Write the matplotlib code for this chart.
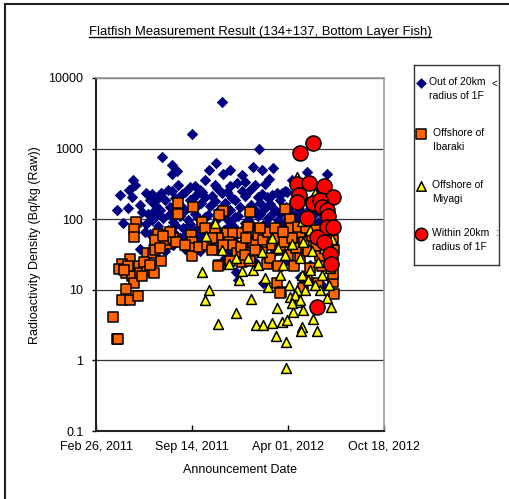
import matplotlib
matplotlib.use("Agg")
import matplotlib.pyplot as plt
import matplotlib.dates as mdates
import pandas as pd
from matplotlib.lines import Line2D
from matplotlib.patches import Rectangle
from matplotlib.ticker import NullLocator

plt.rcParams['font.family'] = ['Liberation Sans', 'DejaVu Sans']

# =====================================
# Data (announcement date, Bq/kg raw)
# =====================================
# Out of 20km radius of 1F
blue = [
    ("2011-11-15", 4500), ("2011-09-14", 1600), ("2012-02-01", 1000), ("2011-07-13", 760),
    ("2011-08-03", 590), ("2011-08-14", 480), ("2011-08-04", 440), ("2011-05-14", 360),
    ("2011-05-18", 305), ("2011-06-10", 235), ("2011-05-12", 206), ("2011-07-11", 235),
    ("2011-07-05", 200), ("2011-05-04", 144), ("2011-06-02", 126), ("2011-06-23", 122),
    ("2011-04-23", 88), ("2011-10-19", 500), ("2011-11-03", 625), ("2011-12-02", 500),
    ("2011-11-18", 437), ("2011-12-27", 423), ("2012-01-19", 549), ("2012-02-07", 498),
    ("2012-03-01", 531), ("2012-02-21", 371), ("2012-05-11", 466), ("2012-06-21", 437),
    ("2012-03-30", 243), ("2012-03-09", 235), ("2012-02-17", 206), ("2012-01-29", 206),
    ("2011-09-10", 286), ("2011-10-01", 259), ("2011-11-05", 277), ("2011-11-26", 243),
    ("2011-12-17", 326), ("2012-03-26", 251), ("2012-02-28", 220), ("2012-01-02", 336),
    ("2012-01-13", 259), ("2011-10-11", 359), ("2011-08-30", 243), ("2011-08-16", 305),
    ("2011-07-26", 259), ("2011-09-20", 213), ("2011-10-26", 213), ("2011-12-06", 200),
    ("2011-06-18", 187), ("2011-06-29", 159), ("2011-07-09", 135), ("2011-07-20", 187),
    ("2011-07-30", 149), ("2011-08-10", 200), ("2011-08-20", 159), ("2011-08-31", 135),
    ("2011-09-09", 187), ("2011-09-21", 144), ("2011-10-02", 170), ("2011-10-12", 206),
    ("2011-10-21", 154), ("2011-11-01", 181), ("2011-11-11", 139), ("2011-11-22", 170),
    ("2011-12-03", 135), ("2011-12-13", 187), ("2011-12-23", 149), ("2012-01-03", 213),
    ("2012-01-14", 159), ("2012-01-23", 135), ("2012-02-03", 170), ("2012-02-13", 144),
    ("2012-02-23", 164), ("2012-03-05", 135), ("2012-03-15", 187), ("2012-03-27", 149),
    ("2012-04-05", 126), ("2012-04-16", 159), ("2012-04-26", 135), ("2012-05-06", 187),
    ("2012-05-17", 144), ("2012-05-27", 175), ("2012-06-07", 126), ("2012-06-17", 154),
    ("2012-06-27", 115), ("2011-06-22", 97), ("2011-07-06", 80), ("2011-07-16", 104),
    ("2011-07-27", 70), ("2011-08-05", 91), ("2011-08-17", 115), ("2011-08-26", 75),
    ("2011-09-06", 97), ("2011-09-16", 70), ("2011-09-26", 104), ("2011-10-07", 80),
    ("2011-10-17", 115), ("2011-10-28", 83), ("2011-11-07", 104), ("2011-11-19", 70),
    ("2011-11-28", 97), ("2011-12-08", 80), ("2011-12-19", 111), ("2011-12-29", 73),
    ("2012-01-09", 97), ("2012-01-20", 75), ("2012-01-30", 111), ("2012-02-09", 83),
    ("2012-02-19", 104), ("2012-03-02", 70), ("2012-03-11", 97), ("2012-03-22", 80),
    ("2012-04-01", 104), ("2012-04-11", 75), ("2012-04-22", 97), ("2012-05-02", 80),
    ("2012-05-13", 104), ("2012-05-23", 70), ("2012-06-02", 91), ("2012-06-13", 75),
    ("2012-06-23", 83), ("2012-07-04", 66), ("2011-06-08", 66), ("2011-07-24", 64),
    ("2011-06-25", 43), ("2011-08-06", 43), ("2011-07-10", 51), ("2011-08-21", 54),
    ("2011-09-11", 48), ("2011-10-01", 54), ("2011-10-22", 45), ("2011-11-12", 51),
    ("2011-12-01", 58), ("2011-12-24", 43), ("2012-01-12", 51), ("2012-02-04", 58),
    ("2012-02-24", 46), ("2012-03-16", 54), ("2012-04-06", 45), ("2012-04-27", 51),
    ("2012-05-18", 58), ("2012-06-08", 43), ("2012-06-28", 51), ("2011-12-18", 13.8),
    ("2011-12-14", 17.9), ("2012-02-08", 12.5), ("2012-01-07", 31), ("2012-02-13", 12.5),
    ("2012-06-11", 11.7), ("2012-04-25", 15.2), ("2012-03-25", 25), ("2012-05-16", 22.4),
    ("2012-01-24", 25), ("2011-11-21", 28), ("2011-05-29", 159), ("2011-05-22", 91),
    ("2011-05-05", 259), ("2011-04-17", 220), ("2011-04-11", 135), ("2012-04-24", 259),
    ("2012-06-05", 259), ("2012-05-21", 336), ("2012-04-09", 359),
    ("2011-06-23", 228), ("2011-08-03", 248), ("2011-08-24", 225), ("2011-10-05", 240),
    ("2011-11-15", 232), ("2011-12-27", 250), ("2012-02-07", 226), ("2012-03-19", 238),
    ("2012-04-20", 244), ("2012-05-31", 229), ("2011-06-14", 118), ("2011-06-29", 110),
    ("2011-07-30", 120), ("2011-08-20", 112), ("2011-09-20", 118), ("2011-10-11", 108),
    ("2011-11-22", 117), ("2011-12-13", 109), ("2012-01-13", 114), ("2012-02-03", 120),
    ("2012-02-23", 112), ("2012-03-15", 118), ("2012-04-16", 110), ("2012-05-06", 116),
    ("2012-05-27", 121), ("2012-06-17", 108), ("2011-06-18", 61), ("2011-07-05", 57),
    ("2011-08-10", 62), ("2011-08-30", 59), ("2011-09-20", 63), ("2011-10-11", 60),
    ("2011-11-01", 57), ("2011-11-22", 62), ("2011-12-13", 60), ("2012-01-02", 63),
    ("2012-01-23", 58), ("2012-02-13", 62), ("2012-03-05", 59), ("2012-03-26", 61),
    ("2012-04-16", 57), ("2012-05-06", 63), ("2012-05-27", 60), ("2012-06-17", 58),
    ("2011-05-29", 38), ("2011-07-20", 36), ("2011-08-30", 38), ("2011-10-01", 35),
    ("2011-11-01", 37), ("2011-12-02", 36), ("2012-02-03", 38), ("2012-03-05", 35),
    ("2012-04-05", 37), ("2012-05-06", 36), ("2012-06-07", 38), ("2011-09-20", 300),
    ("2011-11-01", 310), ("2011-12-02", 295), ("2012-01-23", 305), ("2012-02-13", 315),
    ("2012-04-16", 300), ("2011-06-10", 85), ("2011-08-10", 82), ("2011-09-10", 86),
    ("2011-10-01", 81), ("2011-12-02", 84), ("2012-01-02", 87), ("2012-02-13", 82),
    ("2012-03-26", 85), ("2012-05-06", 83), ("2012-06-17", 86),
]

# Offshore of Ibaraki
orange = [
    ("2011-08-16", 170), ("2011-08-16", 118), ("2011-09-16", 149), ("2011-05-20", 91),
    ("2011-11-18", 130), ("2011-11-09", 115), ("2012-01-13", 126), ("2011-10-05", 91),
    ("2011-05-16", 73), ("2011-05-17", 56), ("2011-07-05", 62), ("2011-06-29", 50),
    ("2011-07-26", 45), ("2011-06-12", 33), ("2011-06-25", 33), ("2011-06-28", 37),
    ("2011-07-11", 26), ("2011-05-08", 27), ("2011-04-21", 23.5), ("2011-04-15", 20),
    ("2011-04-29", 17.5), ("2011-05-12", 15.7), ("2011-05-27", 21.5), ("2011-05-28", 17.5),
    ("2011-06-13", 18.5), ("2011-06-27", 17.5), ("2011-05-16", 12.5), ("2011-04-30", 10.4),
    ("2011-04-21", 7.2), ("2011-05-08", 7.2), ("2011-05-25", 8.2), ("2011-04-03", 4.1),
    ("2011-04-11", 2.0), ("2011-04-13", 2.0), ("2011-09-12", 60), ("2011-09-14", 48),
    ("2011-09-15", 39), ("2011-09-13", 30), ("2011-09-29", 40), ("2011-10-15", 43),
    ("2011-10-26", 37), ("2011-11-09", 22.4), ("2011-10-11", 75), ("2011-11-01", 66),
    ("2011-11-26", 64), ("2011-12-08", 64), ("2011-12-27", 64), ("2012-01-11", 77),
    ("2011-11-30", 48), ("2011-12-08", 43), ("2011-12-27", 41), ("2011-12-17", 33),
    ("2011-12-27", 25), ("2012-01-13", 26), ("2011-12-02", 26), ("2012-01-19", 46),
    ("2011-11-07", 21.5), ("2011-12-25", 41), ("2012-02-17", 23.5), ("2012-03-09", 12.5),
    ("2012-03-18", 9.3), ("2012-07-04", 12.8), ("2012-07-05", 8.7), ("2012-07-03", 17),
    ("2012-07-04", 25), ("2012-07-05", 37), ("2012-07-03", 51), ("2012-04-05", 78),
    ("2012-04-26", 64), ("2012-03-15", 9.0), ("2012-05-02", 10.6), ("2012-06-02", 12.5),
    ("2012-05-11", 15.2), ("2012-03-26", 139), ("2012-04-05", 100), ("2012-04-07", 75),
    ("2012-01-09", 77), ("2012-04-22", 77), ("2012-01-29", 60), ("2012-02-09", 51),
    ("2012-02-19", 66), ("2012-02-28", 43), ("2012-03-07", 54), ("2012-03-15", 37),
    ("2012-03-24", 48), ("2012-04-01", 31), ("2012-04-09", 54), ("2012-04-18", 39),
    ("2012-04-26", 28), ("2012-05-04", 48), ("2012-05-13", 35), ("2012-05-21", 58),
    ("2012-05-29", 42), ("2012-06-07", 30), ("2012-06-15", 51), ("2012-06-23", 37),
    ("2012-02-07", 34), ("2012-02-23", 28), ("2012-03-11", 21.5), ("2012-04-13", 21.5),
    ("2012-05-17", 20.4), ("2012-06-11", 21.5), ("2012-06-19", 70), ("2012-05-29", 70),
    ("2012-05-09", 75), ("2012-01-23", 37), ("2012-01-05", 54), ("2012-02-03", 75),
    ("2012-03-05", 75), ("2012-03-22", 66), ("2012-01-02", 31), ("2011-07-20", 51),
    ("2011-07-09", 39), ("2011-08-05", 54), ("2011-08-12", 48), ("2011-07-30", 66),
    ("2011-07-16", 58), ("2011-08-30", 43), ("2011-11-07", 54), ("2011-11-18", 43),
    ("2011-10-26", 54), ("2011-05-04", 21.5), ("2011-04-25", 19), ("2011-06-06", 25),
    ("2011-06-18", 22.4), ("2011-06-02", 15.7),
]

# Offshore of Miyagi
yellow = [
    ("2011-11-01", 88), ("2011-10-13", 58), ("2011-10-05", 17.9), ("2011-10-19", 10),
    ("2011-10-12", 7.2), ("2011-12-15", 4.7), ("2011-11-07", 3.3), ("2012-01-15", 7.4),
    ("2012-01-25", 3.2), ("2011-12-21", 13.8), ("2011-12-27", 18.5), ("2012-01-19", 19),
    ("2011-11-30", 23.5), ("2011-11-15", 37), ("2012-02-09", 3.2), ("2012-02-28", 3.4),
    ("2012-03-09", 5.5), ("2012-03-07", 2.2), ("2012-03-28", 1.8), ("2012-03-27", 0.78),
    ("2012-03-20", 3.5), ("2012-03-29", 3.7), ("2012-04-11", 4.9), ("2012-05-02", 5.2),
    ("2012-04-30", 3.0), ("2012-04-28", 2.6), ("2012-05-23", 3.8), ("2012-06-01", 2.6),
    ("2012-06-29", 5.7), ("2012-02-19", 11), ("2012-04-05", 8.0), ("2012-04-20", 6.8),
    ("2012-05-06", 10), ("2012-04-19", 10), ("2012-06-07", 10), ("2012-06-21", 7.6),
    ("2012-05-31", 6.1), ("2012-02-07", 34), ("2012-03-22", 22.4), ("2012-04-04", 11.7),
    ("2012-04-30", 16.2), ("2012-05-13", 13.8), ("2012-04-16", 8.4), ("2012-04-10", 6.5),
    ("2012-04-20", 400), ("2012-05-27", 235), ("2012-05-17", 70), ("2012-05-02", 48),
    ("2012-02-28", 54), ("2012-03-11", 39), ("2012-03-26", 31), ("2012-04-09", 45),
    ("2012-04-26", 28), ("2012-05-21", 35), ("2012-06-02", 25), ("2012-06-15", 39),
    ("2012-06-27", 20.4), ("2012-06-11", 16.2), ("2012-05-17", 19), ("2012-03-15", 16.2),
    ("2012-02-13", 14.7), ("2012-01-29", 22.4), ("2012-01-09", 28), ("2011-12-15", 28),
    ("2012-06-25", 11.7), ("2012-05-27", 11.7), ("2012-04-26", 7.2),
    ("2012-04-30", 95), ("2012-07-02", 52),
]

# Within 20km radius of 1F
red = [
    ("2012-04-26", 870), ("2012-05-23", 1200), ("2012-04-19", 315), ("2012-05-15", 326),
    ("2012-06-15", 300), ("2012-04-24", 220), ("2012-07-04", 206), ("2012-04-19", 175),
    ("2012-05-23", 170), ("2012-06-07", 187), ("2012-06-11", 149), ("2012-06-21", 135),
    ("2012-06-23", 111), ("2012-05-11", 104), ("2012-06-21", 77), ("2012-07-04", 77),
    ("2012-06-01", 56), ("2012-06-15", 48), ("2012-06-27", 32), ("2012-06-29", 23.5),
    ("2012-06-01", 5.7),
]

labels = ["Out of 20km\nradius of 1F", "Offshore of\nIbaraki",
          "Offshore of\nMiyagi", "Within 20km\nradius of 1F"]
x_ticks = ["2011-02-26", "2011-09-14", "2012-04-01", "2012-10-18"]
y_ticks = [0.1, 1, 10, 100, 1000, 10000]


def split(pts):
    return pd.to_datetime([p[0] for p in pts]), [p[1] for p in pts]


# series styles: marker, size, face, edge, edge width
styles = [
    ('D', 34, '#000080', '#000080', 0.0),
    ('s', 52, '#FF6600', 'black', 1.1),
    ('^', 50, '#FFFF00', 'black', 1.1),
    ('o', 118, '#FF0000', 'black', 1.1),
]

fig = plt.figure(figsize=(5.09, 4.99), dpi=100)
ax = fig.add_axes([96/509, 68/499, 288/509, 353/499])

for pts, (mk, s, fc, ec, lw), z in zip([blue, orange, yellow, red], styles, [2, 3, 4, 5]):
    d, v = split(pts)
    ax.scatter(d, v, marker=mk, s=s, facecolor=fc, edgecolor=ec, linewidths=lw, zorder=z)

ax.set_yscale('log')
ax.set_ylim(0.1, 10000)
ax.set_yticks(y_ticks)
ax.set_yticklabels(['0.1', '1', '10', '100', '1000', '10000'])
ax.yaxis.set_minor_locator(NullLocator())
ax.set_xlim(pd.Timestamp(x_ticks[0]), pd.Timestamp(x_ticks[-1]))
ax.set_xticks(pd.to_datetime(x_ticks))
ax.xaxis.set_major_formatter(mdates.DateFormatter('%b %d, %Y'))
ax.xaxis.set_minor_locator(NullLocator())

ax.set_axisbelow(True)
ax.grid(axis='y', color='#333333', lw=0.9)
ax.tick_params(axis='y', direction='out', length=3, width=1, pad=6, labelsize=9)
ax.tick_params(axis='x', direction='in', length=4, width=1, pad=7, labelsize=9)
for side in ['left', 'bottom']:
    ax.spines[side].set_color('#222222')
    ax.spines[side].set_linewidth(1.5)
for side in ['top', 'right']:
    ax.spines[side].set_color('#999999')
    ax.spines[side].set_linewidth(1.2)

fig.text(35/509, 1 - 245/499, 'Radioactivity Density (Bq/kg (Raw))', rotation=90,
         ha='center', va='center', fontsize=9)
fig.text(240/509, 1 - 470/499, 'Announcement Date', ha='center', va='center', fontsize=9)
title = fig.text(260/509, 1 - 32/499, 'Flatfish Measurement Result (134+137, Bottom Layer Fish)',
                 ha='center', va='center', fontsize=9.4)

# underline the title
fig.canvas.draw()
bb = title.get_window_extent().transformed(fig.transFigure.inverted())
fig.add_artist(Line2D([bb.x0, bb.x1], [bb.y0 + 0.002, bb.y0 + 0.002], color='black', lw=1))

# legend box
lax = fig.add_axes([414/509, 1 - 265/499, 85/509, 200/499])
lax.set_xlim(414, 499)
lax.set_ylim(265, 65)
lax.set_xticks([])
lax.set_yticks([])
for sp in lax.spines.values():
    sp.set_color('#333333')
    sp.set_linewidth(1)
leg_sizes = [30, 48, 46, 80]
for (mk, s, fc, ec, lw), ls, lab, yy, tx in zip(styles, leg_sizes, labels, [83, 134, 186, 234],
                                                [429, 433, 432, 432]):
    lax.scatter([421], [yy], marker=mk, s=ls, facecolor=fc, edgecolor=ec, linewidths=lw,
                clip_on=False)
    lax.text(tx, yy + 6, lab, ha='left', va='center', fontsize=7.5, linespacing=1.5)
lax.text(494, 84, '<', ha='center', va='center', fontsize=7)
lax.text(496, 233, ':', ha='center', va='center', fontsize=7)

# outer frame of the figure
fig.add_artist(Rectangle((5/509, -0.2), 1.2, 1.2 - 4/499, transform=fig.transFigure,
                         fill=False, edgecolor='#222222', lw=1.5))

fig.savefig('out.png', dpi=100)
